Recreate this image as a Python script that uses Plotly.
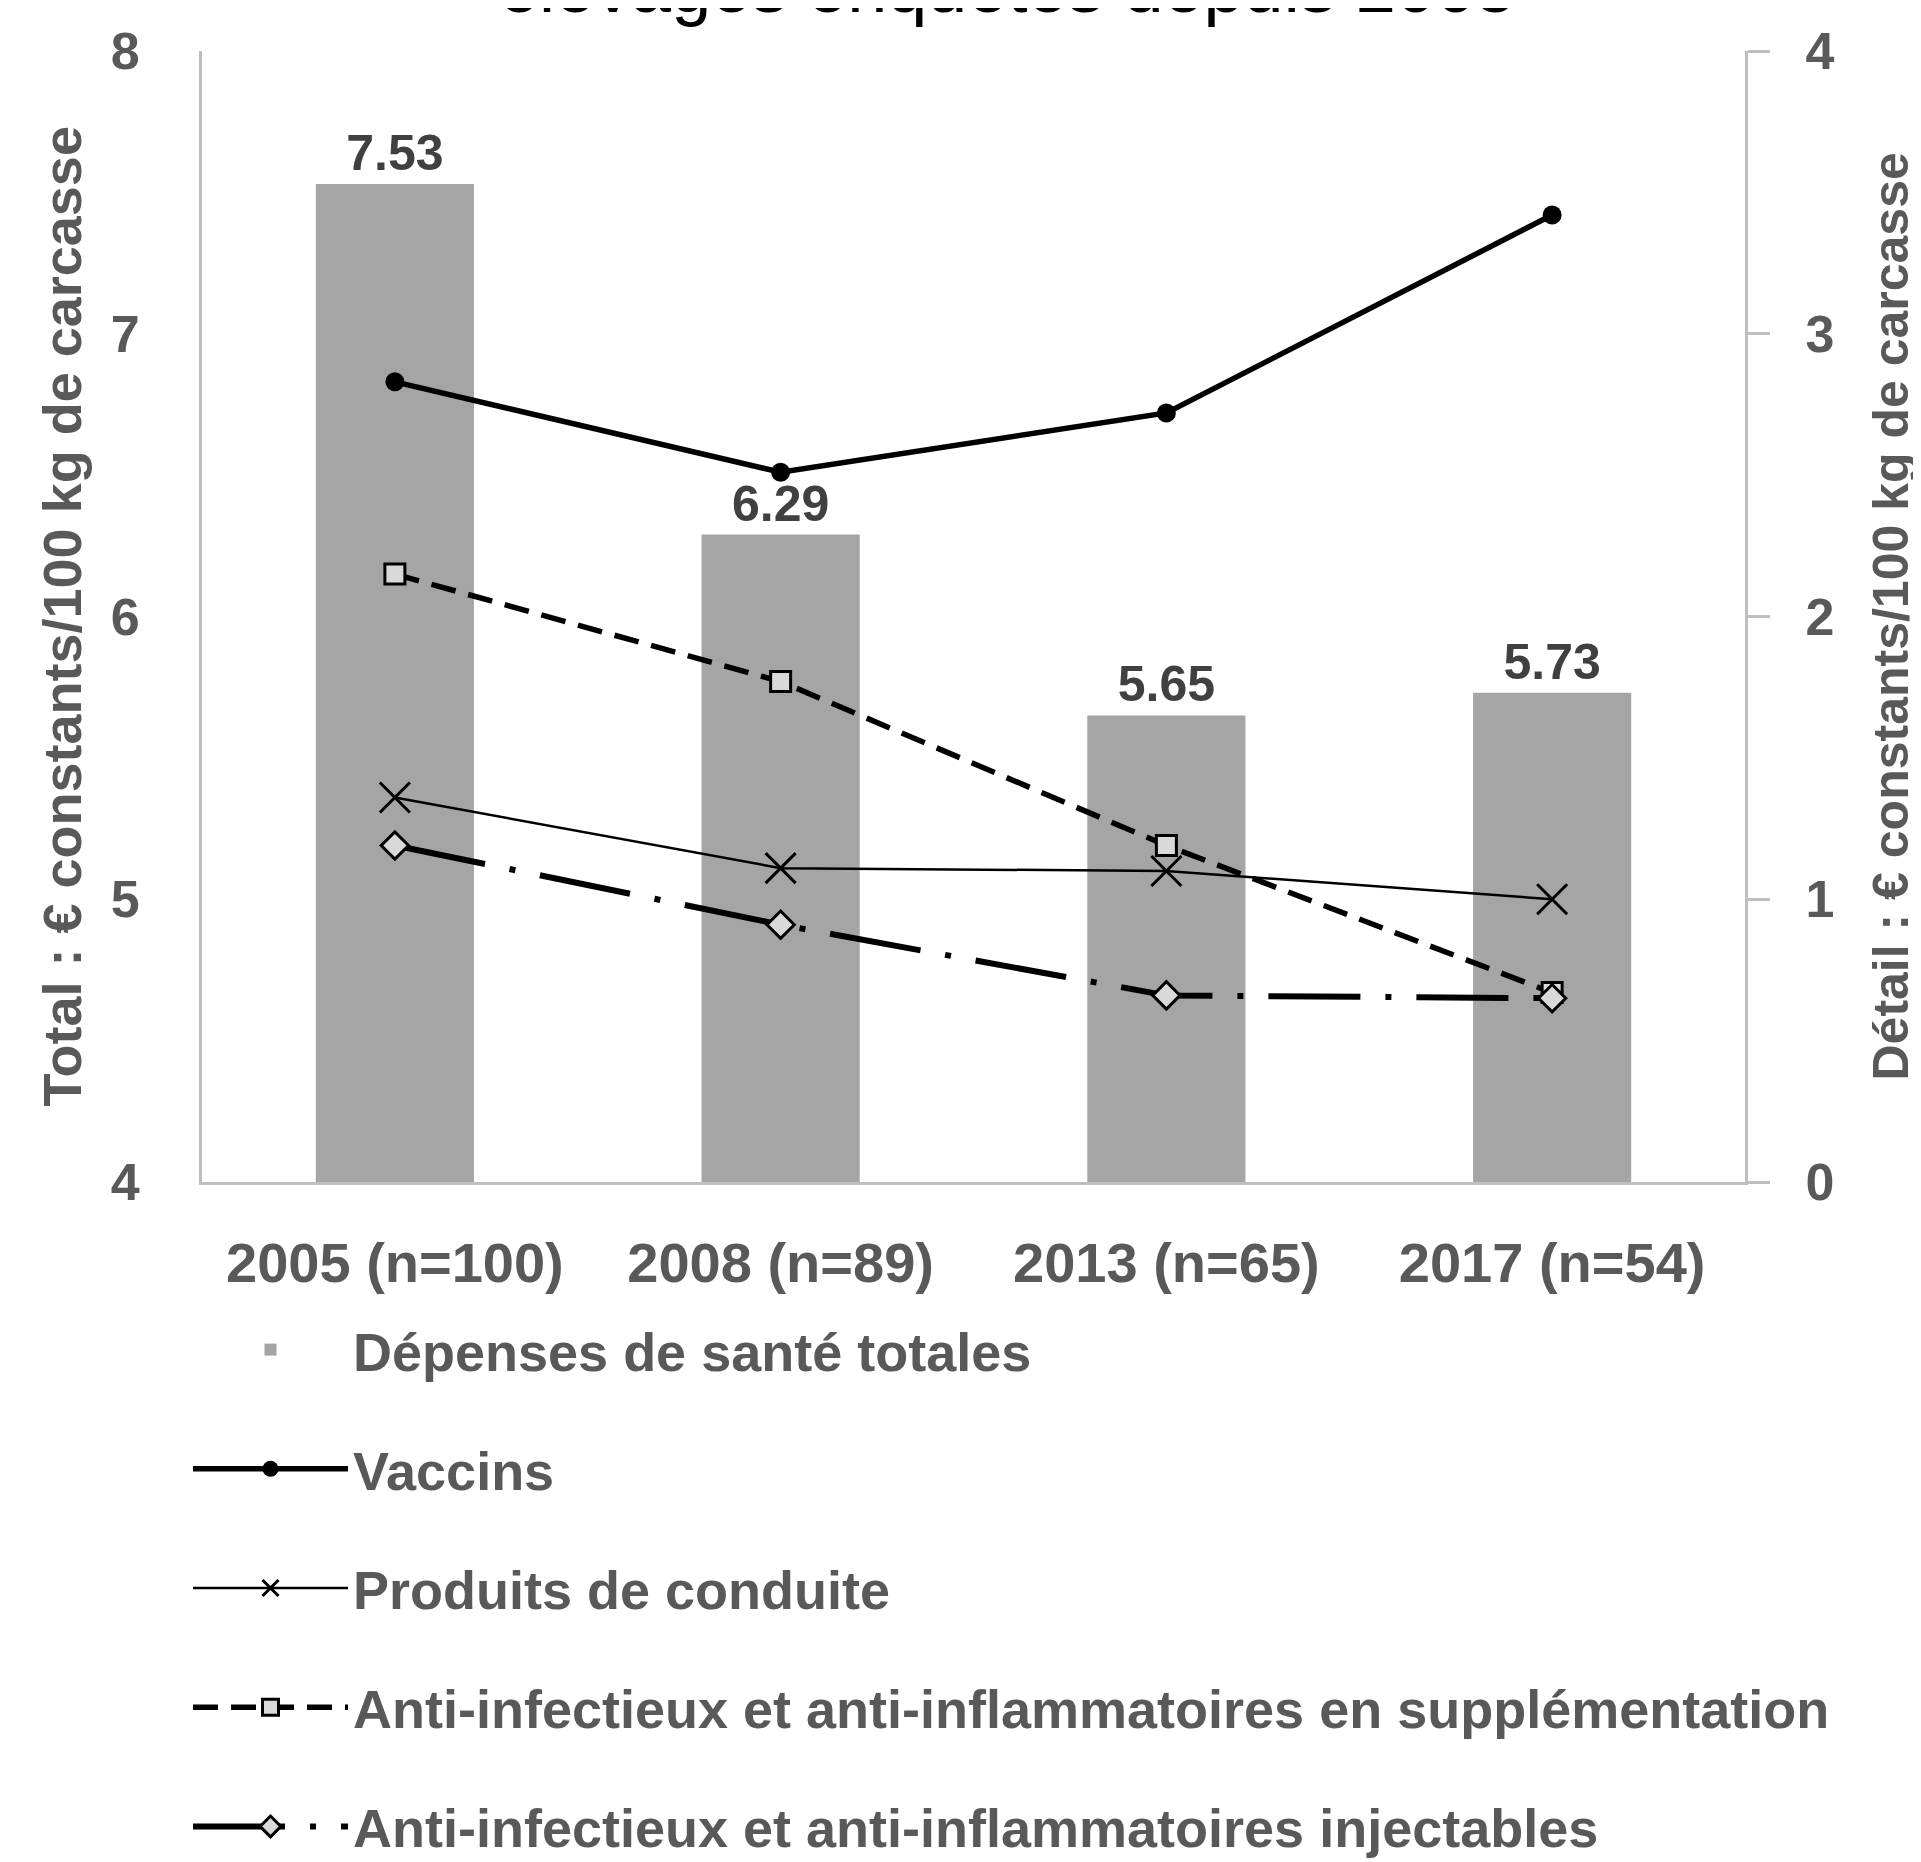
import plotly.graph_objects as go

categories = ["2005 (n=100)", "2008 (n=89)", "2013 (n=65)", "2017 (n=54)"]
total = [7.53, 6.29, 5.65, 5.73]
vaccins = [2.83, 2.51, 2.72, 3.42]
produits_conduite = [1.36, 1.11, 1.10, 1.00]
anti_supplementation = [2.15, 1.77, 1.19, 0.67]
anti_injectables = [1.19, 0.91, 0.66, 0.65]

left_ticks = [4, 5, 6, 7, 8]
right_ticks = [0, 1, 2, 3, 4]

FONT = "Liberation Sans, Arial, sans-serif"
GREY_TXT = "#595959"
AXIS_COL = "#BFBFBF"

OFF = 8  # default page body margin
W, H = 1921 - OFF, 1862 - OFF
L, T = 202 - OFF, 51 - OFF
R = W - (1745 - OFF)
B = H - (1182 - OFF)
plot_h = H - T - B
plot_w = W - L - R

def py(page_y):
    return (H - B - (page_y - OFF)) / plot_h

def px(page_x):
    return (page_x - OFF - L) / plot_w

fig = go.Figure()

fig.add_trace(go.Bar(
    x=categories, y=total, name="Dépenses de santé totales",
    marker=dict(color="#A5A5A5", line=dict(width=0)),
    width=0.41, base=0,
    texttemplate="%{y:.2f}", textposition="outside",
    textfont=dict(family=FONT, size=50, color="#404040"),
    cliponaxis=False, legendgroup="a", yaxis="y",
))

fig.add_trace(go.Scatter(
    x=categories, y=vaccins, name="Vaccins", mode="lines+markers",
    line=dict(color="black", width=5.5),
    marker=dict(symbol="circle", size=19, color="black"),
    legendgroup="b", yaxis="y2",
))
fig.add_trace(go.Scatter(
    x=categories, y=produits_conduite, name="Produits de conduite", mode="lines+markers",
    line=dict(color="black", width=2.5),
    marker=dict(symbol="x-thin", size=30, line=dict(color="black", width=3)),
    legendgroup="c", yaxis="y2",
))
fig.add_trace(go.Scatter(
    x=categories, y=anti_supplementation,
    name="Anti-infectieux et anti-inflammatoires en supplémentation",
    mode="lines+markers",
    line=dict(color="black", width=5.5, dash="25px,13px"),
    marker=dict(symbol="square", size=20, color="#D9D9D9", line=dict(color="black", width=3)),
    legendgroup="d", yaxis="y2",
))
fig.add_trace(go.Scatter(
    x=categories, y=anti_injectables,
    name="Anti-infectieux et anti-inflammatoires injectables",
    mode="lines+markers",
    line=dict(color="black", width=6, dash="92px,25px,6px,25px"),
    marker=dict(symbol="diamond", size=21, color="#D9D9D9", line=dict(color="black", width=3)),
    legendgroup="e", yaxis="y2",
))

fig.update_layout(
    width=W, height=H,
    margin=dict(l=L, r=R, t=T, b=B, pad=0, autoexpand=False),
    paper_bgcolor="white", plot_bgcolor="white",
    font=dict(family=FONT, size=54, color=GREY_TXT, weight="bold"),
    showlegend=True,
    legend=dict(
        x=px(188), xanchor="left", y=py(1308), yanchor="top",
        font=dict(family=FONT, size=54, color=GREY_TXT, weight="bold"),
        tracegroupgap=46, traceorder="grouped",
        itemwidth=155, bgcolor="rgba(0,0,0,0)",
    ),
    xaxis=dict(
        type="category", showline=True, linecolor=AXIS_COL, linewidth=3,
        ticks="", showgrid=False, zeroline=False,
        tickfont=dict(family=FONT, size=56, color=GREY_TXT, weight="bold"),
        ticklabelstandoff=30,
    ),
    yaxis=dict(
        range=[4, 8], tickvals=left_ticks, showline=True, linecolor=AXIS_COL, linewidth=3,
        ticks="", showgrid=False, zeroline=False,
        tickfont=dict(family=FONT, size=52, color=GREY_TXT, weight="bold"),
        ticklabelstandoff=49,
    ),
    yaxis2=dict(
        range=[0, 4], tickvals=right_ticks, overlaying="y", side="right",
        showline=True, linecolor=AXIS_COL, linewidth=3,
        ticks="outside", ticklen=22, tickwidth=3, tickcolor=AXIS_COL,
        showgrid=False, zeroline=False,
        tickfont=dict(family=FONT, size=52, color=GREY_TXT, weight="bold"),
        ticklabelstandoff=25,
    ),
    annotations=[
        dict(text="élevages enquêtés depuis 2005", xref="paper", yref="paper",
             x=px(1007), y=py(29), xanchor="center", yanchor="bottom",
             showarrow=False,
             font=dict(family=FONT, size=72, color="black", weight="normal")),
        dict(text="Total : € constants/100 kg de carcasse", xref="paper", yref="paper",
             x=px(61), y=0.5, xanchor="center", yanchor="middle",
             textangle=-90, showarrow=False,
             font=dict(family=FONT, size=54, color=GREY_TXT, weight="bold")),
        dict(text="Détail : € constants/100 kg de carcasse", xref="paper", yref="paper",
             x=px(1890), y=0.5, xanchor="center", yanchor="middle",
             textangle=-90, showarrow=False,
             font=dict(family=FONT, size=50, color=GREY_TXT, weight="bold")),
    ],
)

fig.write_html("out.html")
